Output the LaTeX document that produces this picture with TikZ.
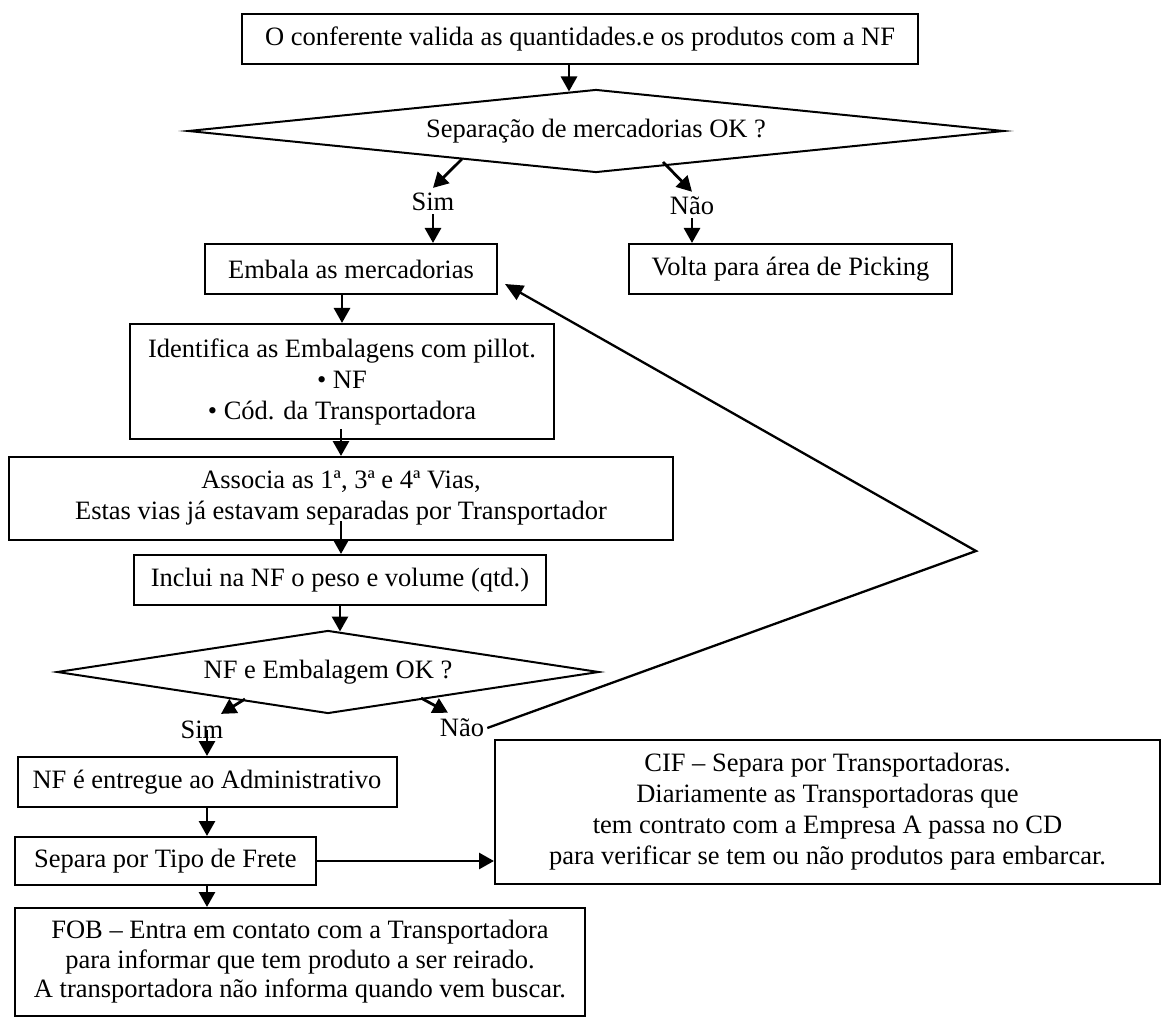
\documentclass[tikz,border=0pt]{standalone}
\usepackage{fontspec}
\setmainfont{Liberation Serif}
\usetikzlibrary{shapes.geometric,arrows.meta,calc}
\begin{document}
\begin{tikzpicture}[x=1pt,y=-1pt,
  font=\fontsize{26.5}{31}\selectfont,
  box/.style={draw, line width=2pt, rectangle, inner sep=0pt, align=center},
  decision/.style={draw, line width=2pt, diamond, inner sep=0pt},
  lbl/.style={inner sep=3pt},
  arr/.style={line width=2.8pt, -{Triangle[length=15pt,width=16pt]}},
  back/.style={line width=2.3pt, -{Triangle[length=18pt,width=16pt]}}
]
\useasboundingbox[fill=white] (0,0) rectangle (1171,1019);

% process boxes
\node[box, minimum width=676pt, minimum height=50pt] (top) at (580,39)
  {O conferente valida as quantidades.e os produtos com a NF};
\node[decision, aspect=9.83, minimum width=816pt, minimum height=83pt] (d1) at (596,131)
  {Separação de mercadorias OK ?};
\node[lbl] (sim1) at (433,202) {Sim};
\node[lbl] (nao1) at (692,206) {Não};
\node[box, minimum width=292pt, minimum height=50pt] (embala) at (351,269)
  {Embala as mercadorias};
\node[box, minimum width=323pt, minimum height=50pt] (volta) at (790.5,269)
  {Volta para área de Picking};
\node[box, minimum width=424pt, minimum height=115pt] (ident) at (342,381.5)
  {Identifica as Embalagens com pillot.\\ • NF\\ • Cód. da Transportadora};
\node[box, minimum width=664pt, minimum height=83pt] (assoc) at (341,498.5)
  {Associa as 1ª, 3ª e 4ª Vias,\\ Estas vias já estavam separadas por Transportador};
\node[box, minimum width=412pt, minimum height=50pt] (inclui) at (340,580)
  {Inclui na NF o peso e volume (qtd.)};
\node[decision, aspect=6.53, minimum width=542pt, minimum height=83pt] (d2) at (328,672)
  {NF e Embalagem OK ?};
\node[lbl] (sim2) at (202,730) {Sim};
\node[lbl] (nao2) at (462,728) {Não};
\node[box, minimum width=379pt, minimum height=50pt] (nf) at (207,782)
  {NF é entregue ao Administrativo};
\node[box, minimum width=301pt, minimum height=48pt] (separa) at (165.5,861)
  {Separa por Tipo de Frete};
\node[box, minimum width=665pt, minimum height=144pt] (cif) at (827.5,812)
  {CIF – Separa por Transportadoras.\\ Diariamente as Transportadoras que\\
   tem contrato com a Empresa A passa no CD\\
   para verificar se tem ou não produtos para embarcar.};
\node[box, minimum width=570pt, minimum height=108pt,
      font=\fontsize{26.5}{29.5}\selectfont] (fob) at (300,962)
  {FOB – Entra em contato com a Transportadora\\
   para informar que tem produto a ser reirado.\\
   A transportadora não informa quando vem buscar.};

% connectors
\draw[arr] ($(top.south)+(-11,0)$) -- ($(d1.north)+(-27,3)$);
\draw[arr] ($(d1.center)+(-134,28)$) -- ($(sim1.north)+(0,-2)$);
\draw[arr] ($(d1.center)+(67,31)$) -- ($(nao1.north)+(0,-2)$);
\draw[arr] (sim1.south) -- (sim1.south |- embala.north);
\draw[arr] (nao1.south) -- (nao1.south |- volta.north);
\draw[arr] (ident.north |- embala.south) -- (ident.north);
\draw[arr] ($(assoc.north |- ident.south)+(0,-11)$) -- (assoc.north);
\draw[arr] ($(assoc.south)+(0,-20)$) -- (assoc.south |- inclui.north);
\draw[arr] (inclui.south) -- ($(d2.north)+(12,2)$);
\draw[arr] ($(d2.center)+(-83,27)$) -- ($(sim2.north)+(19,-4)$);
\draw[arr] ($(d2.center)+(93,26)$) -- ($(nao2.north)+(-14,-3)$);
\draw[arr] (nf.north |- sim2.center) -- (nf.north);
\draw[arr] (nf.south) -- (nf.south |- separa.north);
\draw[arr] (nf.south |- separa.south) -- (nf.south |- fob.north);
\draw[arr] (separa.east) -- (separa.east -| cif.west);

% return path from the second decision back to packing
\coordinate (loopv) at (976,551);
\coordinate (looptip) at ($(embala.south east)+(7,-11)$);
\draw[back] (nao2.east) -- (loopv) -- (looptip);
\end{tikzpicture}
\end{document}
